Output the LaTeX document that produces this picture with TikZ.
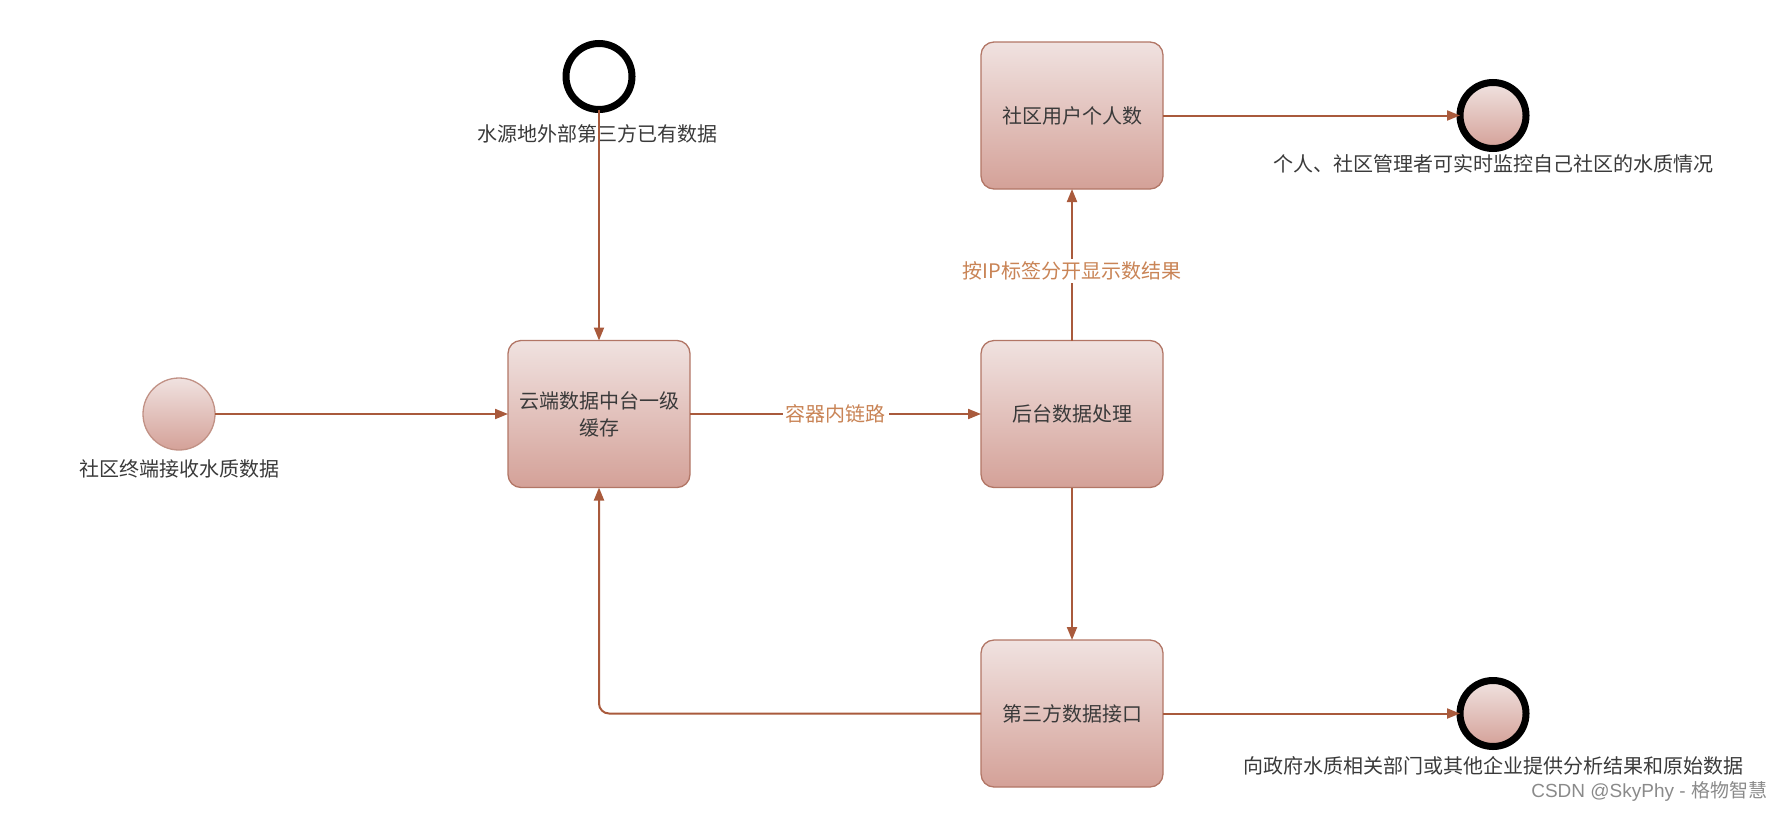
\documentclass[tikz,border=0pt]{standalone}
\usepackage{fontspec}
\setmainfont{Noto Sans CJK SC}
\newfontfamily\wmfont{Liberation Sans}
\usetikzlibrary{arrows.meta}
\definecolor{lineC}{HTML}{A95A3C}
\definecolor{boxBorder}{HTML}{B27666}
\definecolor{boxTop}{HTML}{F0E2E0}
\definecolor{boxBot}{HTML}{D4A198}
\definecolor{txtC}{HTML}{3A3A3A}
\definecolor{lblC}{HTML}{C98456}
\definecolor{wmC}{HTML}{8A8A8A}
\begin{document}
\begin{tikzpicture}[x=1pt,y=-1pt,
  every node/.style={inner sep=0pt, outer sep=0pt},
  procbox/.style={rectangle, rounded corners=13pt, draw=boxBorder, line width=1.3pt,
    top color=boxTop, bottom color=boxBot, minimum width=182pt, minimum height=147pt,
    align=center, text=txtC, font=\fontsize{20}{27}\selectfont},
  startcirc/.style={circle, draw=boxBorder!80, line width=1.3pt, top color=boxTop, bottom color=boxBot,
    minimum size=72pt},
  endcirc/.style={circle, draw=black, line width=7pt, top color=boxTop, bottom color=boxBot,
    minimum size=66pt},
  srccirc/.style={circle, draw=black, line width=7pt, fill=white, minimum size=66pt},
  caption/.style={text=txtC, font=\fontsize{20}{24}\selectfont},
  flow/.style={draw=lineC, line width=2pt, -{Triangle[length=13pt,width=10pt]}},
  lbl/.style={fill=white, inner sep=3pt, text=lblC, font=\fontsize{20}{24}\selectfont}
]
\useasboundingbox (0,0) rectangle (1784,814);

% process boxes
\node[procbox] (A) at (599,414) {云端数据中台一级\\缓存};
\node[procbox] (B) at (1072,414) {后台数据处理};
\node[procbox] (C) at (1072,115.5) {社区用户个人数};
\node[procbox] (D) at (1072,713.5) {第三方数据接口};

% circles
\node[startcirc] (S) at (179,414) {};
\node[caption] (St) at (179,469) {社区终端接收水质数据};
\node[srccirc] (T) at (599,76.5) {};
\node[caption] (Tt) at (597,134) {水源地外部第三方已有数据};
\node[endcirc] (E1) at (1493,115.5) {};
\node[caption] (E1t) at (1493,164) {个人、社区管理者可实时监控自己社区的水质情况};
\node[endcirc] (E2) at (1493,713.5) {};
\node[caption] (E2t) at (1493,766) {向政府水质相关部门或其他企业提供分析结果和原始数据};

% connectors
\draw[flow] (S) -- (A);
\draw[flow] (T.south) -- (A.north);
\draw[flow] (A) -- node[lbl] {容器内链路} (B);
\draw[flow] (B) -- node[lbl, pos=0.46] {按IP标签分开显示数结果} (C);
\draw[flow] (C) -- (E1);
\draw[flow] (B) -- (D);
\draw[flow] (D) -- (E2);
\draw[flow, rounded corners=10pt] (D.west) -| (A.south);

% watermark
\node[anchor=east, text=wmC, font=\wmfont\fontsize{19}{22}\selectfont] (W) at (1767,791) {CSDN @SkyPhy - {\fontspec{Noto Sans CJK SC}格物智慧}};
\end{tikzpicture}
\end{document}
